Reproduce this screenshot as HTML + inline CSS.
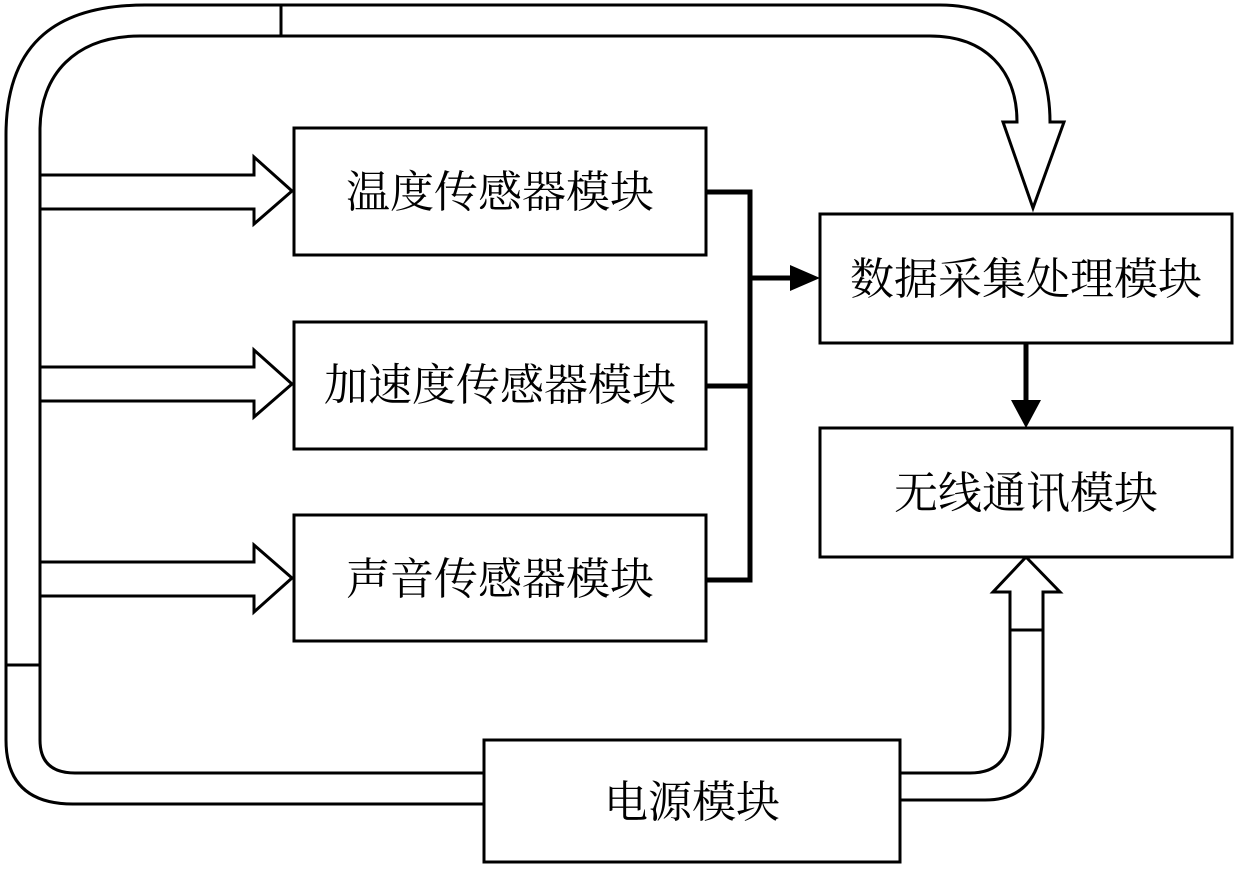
<!DOCTYPE html>
<html><head><meta charset="utf-8"><style>
html,body{margin:0;padding:0;background:#fff;}
svg{display:block;}
text{font-family:"Liberation Serif","Noto Serif CJK SC","Noto Sans CJK SC",serif;font-size:44px;fill:#000;}
</style></head><body>
<svg width="1240" height="873" viewBox="0 0 1240 873" xmlns="http://www.w3.org/2000/svg">
<g fill="none" stroke="#000" stroke-width="3">
<path d="M6,665 L6,135 C6,40 60,5 145,5 L940,5 C1010,5 1050,50 1050,122 L1064,122 L1033,208 L1003,122 L1017,122 C1017,70 985,36 930,36 L140,36 C75,36 40,75 40,130 L40,665 Z" fill="#fff"/>
<line x1="281" y1="5" x2="281" y2="36"/>
<path d="M6,665 L6,740 Q6,804 73,804 L484,804 M40,665 L40,740 Q40,773 75,773 L484,773"/>
<path d="M900,773 L970,773 Q1010,773 1010,730 L1010,592 L993,592 L1026,557 L1060,592 L1043,592 L1043,728 Q1043,800 985,800 L900,800"/>
<line x1="1010" y1="630" x2="1043" y2="630"/>
<path d="M40,175 L254,175 L254,157 L292,191 L254,224 L254,209 L40,209"/>
<path d="M40,367 L254,367 L254,350 L292,384 L254,417 L254,401 L40,401"/>
<path d="M40,562 L254,562 L254,545 L292,578 L254,612 L254,596 L40,596"/>
<rect x="294" y="128" width="412" height="127" fill="#fff"/>
<rect x="294" y="322" width="412" height="127" fill="#fff"/>
<rect x="294" y="515" width="412" height="126" fill="#fff"/>
<rect x="820" y="214" width="412" height="129" fill="#fff"/>
<rect x="820" y="428" width="412" height="129" fill="#fff"/>
<rect x="484" y="740" width="416" height="122" fill="#fff"/>
</g>
<g stroke="#000" stroke-width="5" fill="none">
<path d="M706,192 L750,192 L750,580 L706,580 M706,386 L750,386 M750,278 L792,278 M1026,343 L1026,402"/>
</g>
<polygon points="790,265 820,278 790,291" fill="#000"/>
<polygon points="1011,400 1041,400 1026,428" fill="#000"/>
<text x="500" y="207" text-anchor="middle">温度传感器模块</text>
<text x="500" y="400" text-anchor="middle">加速度传感器模块</text>
<text x="500" y="594" text-anchor="middle">声音传感器模块</text>
<text x="1026" y="294" text-anchor="middle">数据采集处理模块</text>
<text x="1026" y="508" text-anchor="middle">无线通讯模块</text>
<text x="692" y="817" text-anchor="middle">电源模块</text>
</svg>
</body></html>
